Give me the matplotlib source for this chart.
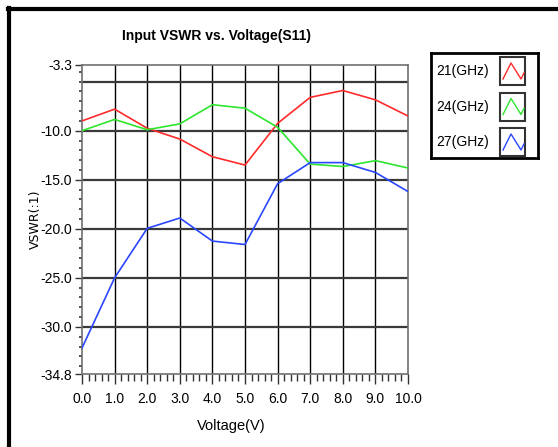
import numpy as np
import matplotlib
matplotlib.use("Agg")
import matplotlib.pyplot as plt
from matplotlib.patches import Rectangle
from matplotlib.lines import Line2D

voltage = [0, 1, 2, 3, 4, 5, 6, 7, 8, 9, 10]
s11_21ghz = [-9.0, -7.8, -9.75, -10.85, -12.65, -13.5, -9.25, -6.6, -5.9, -6.85, -8.5]
s11_24ghz = [-10.0, -8.85, -9.9, -9.3, -7.35, -7.7, -9.65, -13.4, -13.65, -13.05, -13.8]
s11_27ghz = [-32.15, -25.0, -19.95, -18.9, -21.25, -21.6, -15.4, -13.25, -13.25, -14.25, -16.2]
series_names = ["21(GHz)", "24(GHz)", "27(GHz)"]
series_colors = ["#ff2a2a", "#2ee62e", "#2a46ff"]

ytick_vals = [-34.8, -30.0, -25.0, -20.0, -15.0, -10.0, -3.3]
xtick_labels = ["%.1f" % v for v in voltage]

narrow = ["Liberation Sans", "DejaVu Sans"]

fig = plt.figure(figsize=(5.58, 4.47), dpi=100)

# outer frame (top and left thick black line)
fig.add_artist(Line2D([7.5 / 558, 1.0], [1 - 9 / 447, 1 - 9 / 447], color="black", lw=3))
fig.add_artist(Line2D([9 / 558, 9 / 558], [0, 1 - 7.5 / 447], color="black", lw=3))

ax = fig.add_axes([82 / 558, 1 - 374 / 447, 326 / 558, 309 / 447])
for ys, c in zip([s11_21ghz, s11_24ghz, s11_27ghz], series_colors):
    ax.plot(voltage, ys, color=c, lw=1.2, zorder=3)

ax.set_xlim(0, 10)
ax.set_ylim(-34.8, -3.3)

for v in range(1, 10):
    ax.axvline(v, color="black", lw=1.0, zorder=1)
for v in range(-30, -4, 5):
    ax.axhline(v, color="#3a3a3a", lw=1.6, zorder=1)

for s in ax.spines.values():
    s.set_color("#707070")
    s.set_linewidth(1.2)

ax.set_xticks(voltage)
ax.set_xticklabels(xtick_labels, family=narrow, fontsize=10)
ax.set_xticks(np.arange(0, 10.01, 0.2), minor=True)
ax.set_yticks(ytick_vals)
ax.set_yticklabels(["%.1f" % v for v in ytick_vals], family=narrow, fontsize=10)
ax.set_yticks(np.arange(-34, -3, 1.0), minor=True)
ax.tick_params(axis="x", which="major", length=7, width=1, color="#333333", pad=6)
ax.tick_params(axis="x", which="minor", length=5, width=1, color="#333333")
ax.tick_params(axis="y", which="major", length=5, width=1, color="#333333", pad=2)
ax.tick_params(axis="y", which="minor", length=2.5, width=1.2, color="#333333")

fig.text(216 / 558, 1 - 36 / 447, "Input VSWR vs. Voltage(S11)", family=narrow,
         fontsize=10, fontweight="bold", ha="center", va="center")
fig.text(231 / 558, 1 - 426 / 447, "Voltage(V)", family=narrow, fontsize=10.5,
         ha="center", va="center")
ax.set_ylabel("VSWR(:1)", fontsize=9)
ax.yaxis.set_label_coords(-0.123, 0.5)

# legend panel
lax = fig.add_axes([431 / 558, 1 - 158 / 447, 107 / 558, 105 / 447])
lax.set_xlim(0, 107)
lax.set_ylim(105, 0)
lax.set_xticks([])
lax.set_yticks([])
for s in lax.spines.values():
    s.set_linewidth(2)
    s.set_color("black")
glyph_x = [3, 11, 21]
glyph_y = [20, 4, 20]
for i, (name, c) in enumerate(zip(series_names, series_colors)):
    top = 4 + i * 35.5
    lax.text(58, top + 14, name, ha="right", va="center", family=narrow, fontsize=10)
    lax.add_patch(Rectangle((69, top), 25, 28, fill=False, ec="#333333", lw=1.5))
    lax.plot([69 + gx for gx in glyph_x] + [72 + 21], [top + 2 + gy for gy in glyph_y] + [top + 16],
             color=c, lw=1)

fig.savefig("out.png", dpi=100)
